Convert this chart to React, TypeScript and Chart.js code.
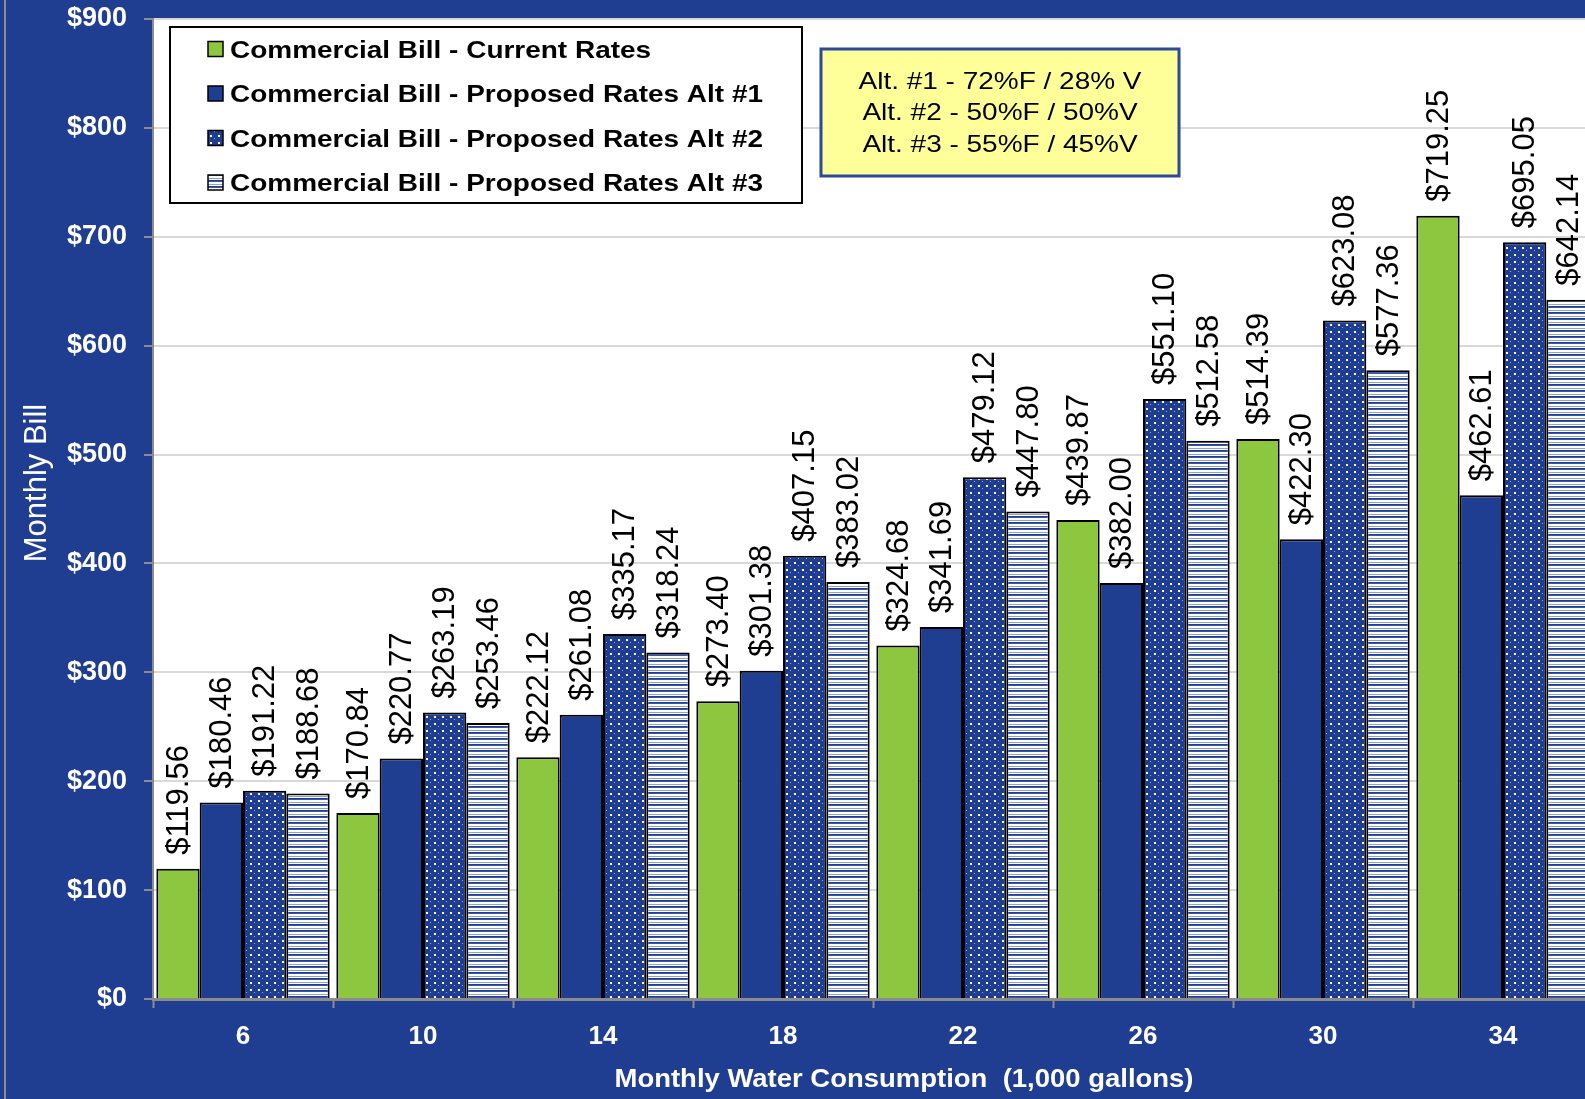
import React, { useEffect, useRef } from 'react';
import { Chart, registerables } from 'chart.js';

Chart.register(...registerables);

const categories = ['6', '10', '14', '18', '22', '26', '30', '34'];
const currentRates = [119.56, 170.84, 222.12, 273.4, 324.68, 439.87, 514.39, 719.25];
const proposedAlt1 = [180.46, 220.77, 261.08, 301.38, 341.69, 382.0, 422.3, 462.61];
const proposedAlt2 = [191.22, 263.19, 335.17, 407.15, 479.12, 551.1, 623.08, 695.05];
const proposedAlt3 = [188.68, 253.46, 318.24, 383.02, 447.8, 512.58, 577.36, 642.14];
const seriesLabels = [
  'Commercial Bill - Current Rates',
  'Commercial Bill - Proposed Rates Alt #1',
  'Commercial Bill - Proposed Rates Alt #2',
  'Commercial Bill - Proposed Rates Alt #3',
];
const noteLines = ['Alt. #1 - 72%F / 28% V', 'Alt. #2 - 50%F / 50%V', 'Alt. #3 - 55%F / 45%V'];
const yTitle = 'Monthly Bill';
const xTitle = 'Monthly Water Consumption  (1,000 gallons)';
const yMin = 0;
const yMax = 900;
const yStep = 100;

const W = 1620;
const H = 1099;
const BLUE = '#1F3E92';
const GREEN = '#8DC63F';
const FONT = '"Liberation Sans", Arial, sans-serif';

function makeDots(): CanvasPattern | string {
  const c = document.createElement('canvas');
  c.width = 8;
  c.height = 7;
  const g = c.getContext('2d');
  if (!g) return BLUE;
  g.fillStyle = BLUE;
  g.fillRect(0, 0, 8, 7);
  g.fillStyle = '#ffffff';
  g.fillRect(2, 2, 2, 2);
  g.fillStyle = '#9aa9d6';
  g.fillRect(6, 5, 1, 1);
  return g.createPattern(c, 'repeat') || BLUE;
}

function makeStripes(): CanvasPattern | string {
  const c = document.createElement('canvas');
  c.width = 4;
  c.height = 6;
  const g = c.getContext('2d');
  if (!g) return BLUE;
  const rows = [BLUE, '#3a56a8', '#ffffff', '#ffffff', '#8fa1d4', '#ffffff'];
  rows.forEach((col, i) => {
    g.fillStyle = col;
    g.fillRect(0, i, 4, 1);
  });
  return g.createPattern(c, 'repeat') || BLUE;
}

function drawStretched(
  ctx: CanvasRenderingContext2D,
  text: string,
  x: number,
  y: number,
  sx: number,
  align: CanvasTextAlign,
  baseline: CanvasTextBaseline,
  color: string
) {
  ctx.save();
  ctx.translate(x, y);
  ctx.scale(sx, 1);
  ctx.fillStyle = color;
  ctx.textAlign = align;
  ctx.textBaseline = baseline;
  ctx.fillText(text, 0, 0);
  ctx.restore();
}

const backgroundPlugin = {
  id: 'bgPlugin',
  beforeDraw(chart: any) {
    const { ctx, chartArea } = chart;
    ctx.save();
    ctx.fillStyle = BLUE;
    ctx.fillRect(0, 0, chart.width, chart.height);
    ctx.fillStyle = '#ffffff';
    ctx.fillRect(chartArea.left, chartArea.top, chartArea.right - chartArea.left, chartArea.bottom - chartArea.top);
    ctx.fillStyle = '#8c8c8c';
    ctx.fillRect(4, 0, 2, chart.height);
    ctx.restore();
  },
};

const valueLabelPlugin = {
  id: 'valueLabels',
  afterDatasetsDraw(chart: any) {
    const ctx: CanvasRenderingContext2D = chart.ctx;
    ctx.save();
    ctx.font = `31px ${FONT}`;
    ctx.fillStyle = '#000000';
    ctx.textAlign = 'left';
    ctx.textBaseline = 'middle';
    chart.data.datasets.forEach((ds: any, di: number) => {
      const meta = chart.getDatasetMeta(di);
      meta.data.forEach((bar: any, i: number) => {
        const v = ds.data[i] as number;
        ctx.save();
        ctx.translate(bar.x + 1, bar.y - 14);
        ctx.rotate(-Math.PI / 2);
        ctx.fillText('$' + v.toFixed(2), 0, 0);
        ctx.restore();
      });
    });
    ctx.restore();
  },
};

const overlayPlugin = {
  id: 'overlay',
  afterDraw(chart: any) {
    const ctx: CanvasRenderingContext2D = chart.ctx;
    ctx.save();

    // legend box
    const lx = 170, ly = 27, lw = 632, lh = 176;
    ctx.fillStyle = '#ffffff';
    ctx.fillRect(lx, ly, lw, lh);
    ctx.strokeStyle = '#000000';
    ctx.lineWidth = 2;
    ctx.strokeRect(lx, ly, lw, lh);
    ctx.font = `bold 24px ${FONT}`;
    const lsx = 533 / ctx.measureText(seriesLabels[1]).width;
    chart.data.datasets.forEach((ds: any, i: number) => {
      const cy = 49 + i * 44.5;
      ctx.fillStyle = ds.backgroundColor;
      ctx.fillRect(208, cy - 7.5, 15, 15);
      ctx.strokeStyle = '#000000';
      ctx.lineWidth = 1.5;
      ctx.strokeRect(208, cy - 7.5, 15, 15);
      drawStretched(ctx, ds.label, 230, cy + 8.5, lsx, 'left', 'alphabetic', '#000000');
    });

    // note box
    const nx = 821, ny = 49, nw = 358, nh = 127;
    ctx.fillStyle = '#FFFF99';
    ctx.fillRect(nx, ny, nw, nh);
    ctx.strokeStyle = '#2B4A9F';
    ctx.lineWidth = 3;
    ctx.strokeRect(nx, ny, nw, nh);
    ctx.font = `24px ${FONT}`;
    const nsx = 283 / ctx.measureText(noteLines[0]).width;
    noteLines.forEach((t, i) => {
      drawStretched(ctx, t, 1000, 88.5 + i * 31.5, nsx, 'center', 'alphabetic', '#000000');
    });

    // x title
    ctx.font = `bold 26px ${FONT}`;
    const xsx = 579 / ctx.measureText(xTitle).width;
    drawStretched(ctx, xTitle, 904, 1087, xsx, 'center', 'alphabetic', '#ffffff');

    // y title
    ctx.save();
    ctx.translate(46, 483);
    ctx.rotate(-Math.PI / 2);
    ctx.font = `31px ${FONT}`;
    ctx.fillStyle = '#ffffff';
    ctx.textAlign = 'center';
    ctx.textBaseline = 'alphabetic';
    ctx.fillText(yTitle, 0, 0);
    ctx.restore();

    ctx.restore();
  },
};

export default function App() {
  const ref = useRef<HTMLCanvasElement | null>(null);

  useEffect(() => {
    const canvas = ref.current;
    if (!canvas) return;
    const dots = makeDots();
    const stripes = makeStripes();
    const common = {
      borderColor: '#000000',
      borderWidth: 2,
      categoryPercentage: 0.963,
      barPercentage: 1.0,
    };
    const chart = new Chart(canvas, {
      type: 'bar',
      data: {
        labels: categories,
        datasets: [
          { label: seriesLabels[0], data: currentRates, backgroundColor: GREEN, ...common },
          { label: seriesLabels[1], data: proposedAlt1, backgroundColor: BLUE, ...common },
          { label: seriesLabels[2], data: proposedAlt2, backgroundColor: dots as any, ...common },
          { label: seriesLabels[3], data: proposedAlt3, backgroundColor: stripes as any, ...common },
        ],
      },
      options: {
        animation: false,
        responsive: false,
        maintainAspectRatio: false,
        layout: { padding: { top: 19, right: W - 1593, left: 0, bottom: 0 } },
        plugins: {
          legend: { display: false },
          tooltip: { enabled: false },
          title: { display: false },
        },
        scales: {
          x: {
            afterFit: (scale: any) => {
              scale.height = H - 999;
              scale.paddingLeft = 0;
              scale.paddingRight = 0;
            },
            grid: {
              display: true,
              drawOnChartArea: false,
              drawTicks: true,
              tickLength: 9,
              tickColor: '#8c8c8c',
              tickWidth: 2,
              offset: true,
            },
            border: { color: '#8c8c8c', width: 3 },
            ticks: {
              color: '#ffffff',
              font: { family: FONT, size: 26, weight: 'bold' },
              padding: 13,
              maxRotation: 0,
            },
          },
          y: {
            min: yMin,
            max: yMax,
            afterFit: (scale: any) => {
              scale.width = 153;
              scale.paddingTop = 0;
              scale.paddingBottom = 0;
            },
            grid: {
              color: '#D9D9D9',
              lineWidth: 2,
              tickLength: 9,
              tickColor: '#8c8c8c',
              tickWidth: 2,
            },
            border: { color: '#8c8c8c', width: 2 },
            ticks: {
              stepSize: yStep,
              color: '#ffffff',
              font: { family: FONT, size: 27, weight: 'bold' },
              padding: 17,
              callback: (v: any) => '$' + v,
            },
          },
        },
      },
      plugins: [backgroundPlugin, valueLabelPlugin, overlayPlugin],
    });
    return () => chart.destroy();
  }, []);

  return (
    <div style={{ position: 'fixed', left: 0, top: 0, width: W, height: H, overflow: 'hidden' }}>
      <canvas ref={ref} width={W} height={H} style={{ width: W, height: H, display: 'block' }} />
    </div>
  );
}
